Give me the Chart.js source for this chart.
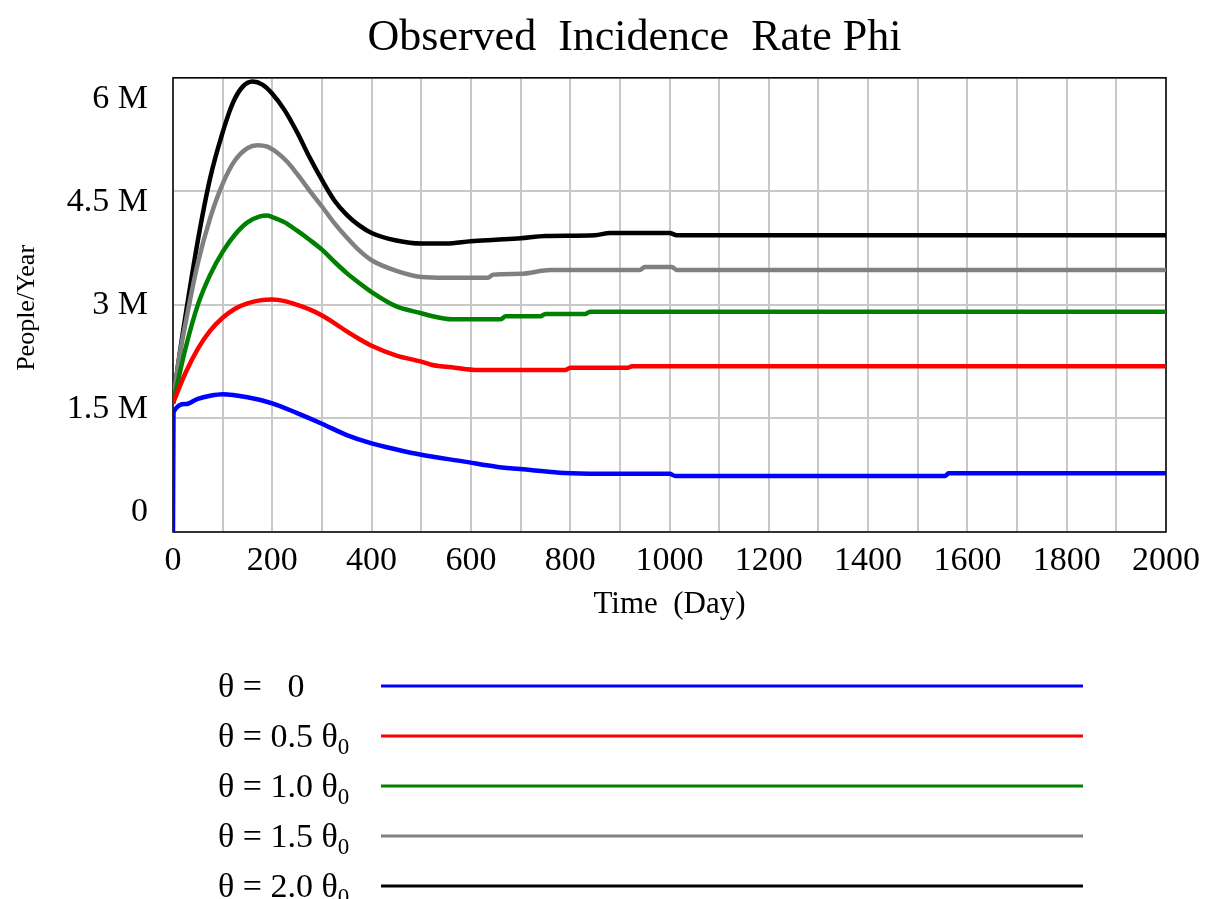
<!DOCTYPE html>
<html>
<head>
<meta charset="utf-8">
<title>Observed Incidence Rate Phi</title>
<script src="https://cdn.jsdelivr.net/npm/chart.js@4.4.0/dist/chart.umd.min.js"></script>
<style>
  html, body { margin: 0; padding: 0; background: #fff; }
</style>
</head>
<body>
<canvas id="phiChart" width="1209" height="899"></canvas>
<script>
// Observed incidence rate Phi, millions of people/year
const seriesNames = ['θ =   0', 'θ = 0.5 θ₀', 'θ = 1.0 θ₀', 'θ = 1.5 θ₀', 'θ = 2.0 θ₀'];
const seriesColors = ['#0000ff', '#ff0000', '#008000', '#808080', '#000000'];

const daysBlue = [0, 1, 25, 50, 75, 100, 150, 200, 250, 300, 350, 400, 450, 500, 587, 654, 720, 788, 860, 1000, 1012, 1555, 1562, 2000];
const phiBlue  = [0, 1.58, 1.69, 1.76, 1.80, 1.82, 1.78, 1.70, 1.57, 1.43, 1.28, 1.17, 1.09, 1.02, 0.93, 0.86, 0.82, 0.78, 0.77, 0.77, 0.74, 0.74, 0.775, 0.775];

const daysRed = [0, 25, 50, 75, 100, 125, 150, 175, 200, 225, 250, 275, 300, 325, 350, 375, 400, 450, 500, 520, 567, 614, 790, 800, 915, 925, 2000];
const phiRed  = [1.70, 2.10, 2.42, 2.66, 2.83, 2.95, 3.02, 3.06, 3.07, 3.05, 3.00, 2.94, 2.86, 2.76, 2.65, 2.55, 2.46, 2.33, 2.25, 2.21, 2.17, 2.14, 2.14, 2.17, 2.17, 2.19, 2.19];

const daysGreen = [0, 25, 50, 75, 100, 125, 150, 175, 190, 200, 225, 250, 275, 300, 325, 350, 375, 400, 450, 500, 530, 560, 660, 670, 740, 750, 830, 840, 2000];
const phiGreen  = [1.70, 2.42, 3.00, 3.40, 3.70, 3.93, 4.09, 4.17, 4.18, 4.16, 4.09, 3.98, 3.86, 3.73, 3.57, 3.42, 3.29, 3.17, 2.98, 2.89, 2.84, 2.81, 2.81, 2.85, 2.85, 2.88, 2.88, 2.91, 2.91];

const daysGray = [0, 10, 25, 50, 75, 100, 125, 150, 170, 190, 210, 230, 250, 275, 300, 325, 350, 375, 400, 450, 500, 550, 634, 645, 700, 760, 940, 950, 1005, 1015, 2000];
const phiGray  = [1.70, 2.20, 2.75, 3.55, 4.15, 4.60, 4.91, 5.07, 5.11, 5.09, 5.01, 4.89, 4.73, 4.51, 4.30, 4.08, 3.89, 3.72, 3.59, 3.45, 3.37, 3.36, 3.36, 3.40, 3.41, 3.46, 3.46, 3.50, 3.50, 3.46, 3.46];

const daysBlack = [0, 10, 25, 50, 75, 100, 120, 140, 160, 180, 200, 225, 250, 275, 300, 325, 350, 375, 400, 450, 500, 550, 600, 650, 700, 750, 850, 880, 1000, 1015, 2000];
const phiBlack  = [1.70, 2.20, 2.85, 3.85, 4.68, 5.28, 5.66, 5.88, 5.95, 5.91, 5.79, 5.57, 5.28, 4.95, 4.65, 4.38, 4.19, 4.05, 3.95, 3.85, 3.81, 3.81, 3.84, 3.86, 3.88, 3.91, 3.92, 3.95, 3.95, 3.92, 3.92];

const allDays = [daysBlue, daysRed, daysGreen, daysGray, daysBlack];
const allPhi = [phiBlue, phiRed, phiGreen, phiGray, phiBlack];

const yTickValues = [0, 1.5, 3, 4.5, 6];
const yTickLabels = ['0', '1.5 M', '3 M', '4.5 M', '6 M'];
const yTitle = 'People/Year';

const serif = "'Liberation Serif', 'Times New Roman', serif";

// frame round the plot area (all four sides)
const framePlugin = {
    id: 'frame',
    beforeDatasetsDraw(chart) {
        const a = chart.chartArea, ctx = chart.ctx;
        ctx.save();
        ctx.strokeStyle = '#000';
        ctx.lineWidth = 1.5;
        ctx.strokeRect(a.left, a.top, a.right - a.left, a.bottom - a.top);
        ctx.restore();
    }
};

// y tick labels are spread a little inside the axis, like the original,
// and the axis title sits at the far left edge
const yLabelPlugin = {
    id: 'yLabels',
    afterDraw(chart) {
        const y = chart.scales.y, ctx = chart.ctx;
        ctx.save();
        ctx.font = '34px ' + serif;
        ctx.fillStyle = '#000';
        ctx.textAlign = 'right';
        ctx.textBaseline = 'middle';
        yTickValues.forEach(function(v, i) {
            const frac = v / y.max;
            const shift = 21 - 41 * (1 - frac);
            ctx.fillText(yTickLabels[i], 148, y.getPixelForValue(v) + shift);
        });

        ctx.translate(27, (y.top + y.bottom) / 2 + 3);
        ctx.rotate(-Math.PI / 2);
        ctx.textAlign = 'center';
        ctx.font = '26px ' + serif;
        ctx.fillText(yTitle, 0, 0);
        ctx.restore();
    }
};

// legend under the chart: label with subscript, then a long line
const legendPlugin = {
    id: 'bigLegend',
    afterDraw(chart) {
        const ctx = chart.ctx;
        ctx.save();
        chart.data.datasets.forEach(function(ds, i) {
            const rowY = 686 + i * 50;
            ctx.strokeStyle = ds.borderColor;
            ctx.lineWidth = 3;
            ctx.beginPath();
            ctx.moveTo(381, rowY);
            ctx.lineTo(1083, rowY);
            ctx.stroke();

            const parts = ds.label.split('₀');
            ctx.fillStyle = '#000';
            ctx.textAlign = 'left';
            ctx.textBaseline = 'middle';
            ctx.font = '34px ' + serif;
            ctx.fillText(parts[0], 218, rowY + 2);
            if (parts.length > 1) {
                const w = ctx.measureText(parts[0]).width;
                ctx.font = '23px ' + serif;
                ctx.fillText('0', 218 + w, rowY + 12);
            }
        });
        ctx.restore();
    }
};

const datasets = seriesNames.map(function(name, i) {
    return {
        label: name,
        data: allDays[i].map(function(d, j) { return { x: d, y: allPhi[i][j] }; }),
        borderColor: seriesColors[i],
        backgroundColor: seriesColors[i],
        borderWidth: 4.5,
        pointRadius: 0,
        cubicInterpolationMode: 'monotone',
        fill: false
    };
});

new Chart(document.getElementById('phiChart').getContext('2d'), {
    type: 'line',
    data: { datasets: datasets },
    options: {
        responsive: false,
        animation: false,
        layout: { padding: { top: 0, left: 98, right: 38, bottom: 0 } },
        plugins: {
            legend: { display: false },
            tooltip: { enabled: false },
            title: {
                display: true,
                text: 'Observed  Incidence  Rate Phi',
                color: '#000',
                font: { family: serif, size: 44, weight: 'normal' },
                padding: { top: 12, bottom: 13 }
            }
        },
        scales: {
            x: {
                type: 'linear',
                min: 0,
                max: 2000,
                afterFit: function(scale) { scale.height = 367; },
                border: { display: false },
                grid: { color: '#c8c8c8', lineWidth: 2, drawTicks: false },
                ticks: {
                    stepSize: 100,
                    color: '#000',
                    padding: 9,
                    maxRotation: 0,
                    autoSkip: false,
                    font: { family: serif, size: 34 },
                    callback: function(v) { return v % 200 === 0 ? String(v) : ''; }
                },
                title: {
                    display: true,
                    text: 'Time  (Day)',
                    color: '#000',
                    font: { family: serif, size: 31 },
                    padding: { top: 0, bottom: 276 }
                }
            },
            y: {
                min: 0,
                max: 6,
                afterFit: function(scale) { scale.width = 75; },
                border: { display: false },
                grid: { color: '#c8c8c8', lineWidth: 2, drawTicks: false },
                ticks: { stepSize: 1.5, display: false },
                title: { display: false }
            }
        }
    },
    plugins: [framePlugin, yLabelPlugin, legendPlugin]
});
</script>
</body>
</html>
